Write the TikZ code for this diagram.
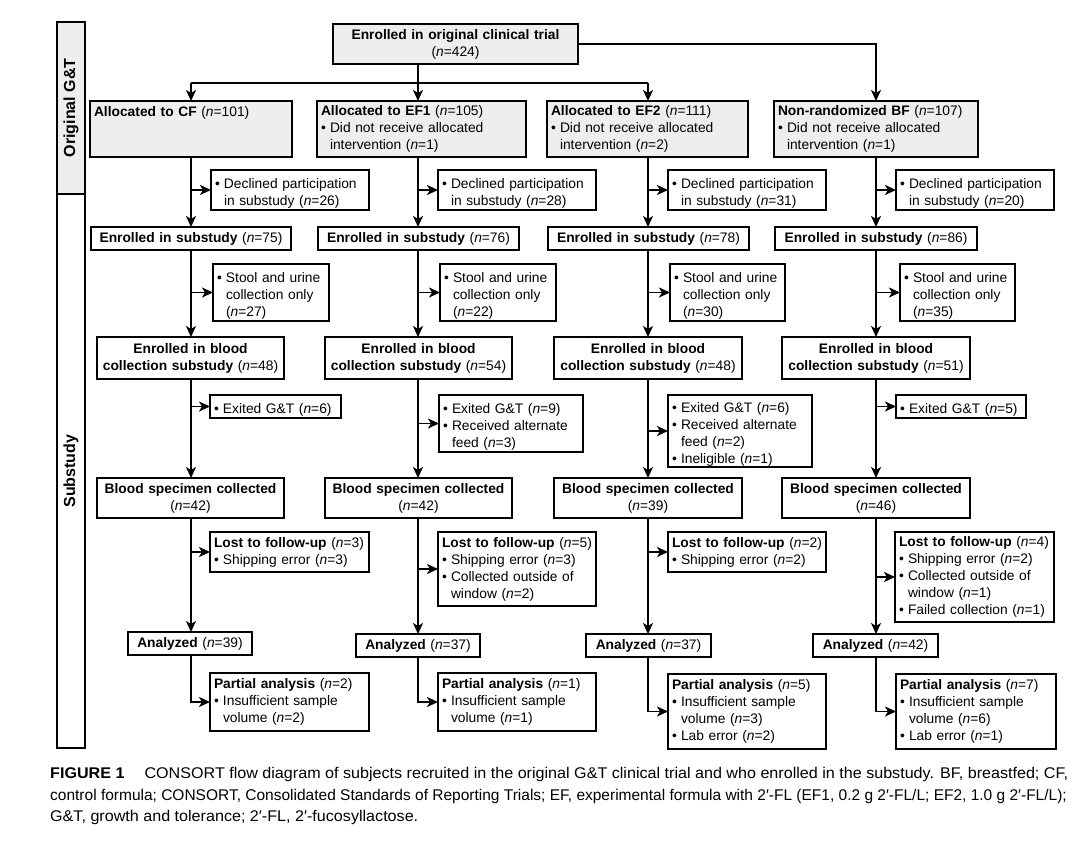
\documentclass[tikz,border=0pt]{standalone}
\usepackage{fontspec}
\setmainfont{Liberation Sans}
\newfontfamily\capfont[FakeStretch=1.04]{Liberation Sans}
\newfontfamily\capfontb[FakeStretch=1.0]{Liberation Sans}
\usetikzlibrary{arrows.meta,calc}
\definecolor{boxgray}{RGB}{238,238,238}
\newcommand\fs{\fontsize{13.8pt}{17pt}\selectfont}
\newcommand\nn{\textit{n}}
\newcommand\nl{\unskip\hfil\break}
\newcommand\bl[1]{\par\hangindent=9pt\hangafter=1\noindent\makebox[9pt][l]{\textbullet}#1\par}
\tikzset{
  bx/.style={draw=black, line width=1.4pt, anchor=north west, inner xsep=4pt, inner ysep=0pt, outer sep=0pt, align=left, font=\fs},
  gbx/.style={bx, fill=boxgray},
  cbx/.style={bx, align=center},
  tbx/.style={cbx, line width=2.4pt},
  colbox/.style={draw=black, line width=1.4pt, anchor=north west, inner sep=0pt, outer sep=0pt},
  arr/.style={line width=1.8pt, -{Stealth[length=11pt,width=10pt,inset=3pt]}},
  ln/.style={line width=1.8pt},
  captext/.style={anchor=base west, inner sep=0pt, font=\capfont\fontsize{15.5pt}{18pt}\selectfont},
  captextb/.style={anchor=base west, inner sep=0pt, font=\capfontb\fontsize{15.5pt}{18pt}\selectfont},
}
% [style]{name}{x,y}{w}{h}{text}
\newcommand\bx[6][]{\node[bx,#1,text width=#4pt-8pt,minimum height=#5pt] (#2) at (#3) {#6};}
\begin{document}
\begin{tikzpicture}[x=1pt,y=-1pt]
\useasboundingbox (0,0) rectangle (1080,843);
% side column
\node[colbox, fill=boxgray, minimum width=28pt, minimum height=172pt] (og) at (57,22) {};
\node[colbox, minimum width=28pt, minimum height=554pt] (sub) at (57,194) {};
\node[rotate=90, font=\fontsize{16pt}{18pt}\selectfont\bfseries] (ogl) at (og.center) {Original G\&T};
\node[rotate=90, font=\fontsize{16pt}{18pt}\selectfont\bfseries] (subl) at (sub.center) {Substudy};
% column axes
\coordinate (c1) at (191,0);
\coordinate (c2) at (418,0);
\coordinate (c3) at (648,0);
\coordinate (c4) at (876,0);
\coordinate (h) at (0,83);
% top
\bx[gbx,align=center]{T}{333,24}{245}{40}{\textbf{Enrolled in original clinical trial}\\(\nn=424)}
% allocation
\bx[gbx]{A1}{90,101}{202}{56}{\textbf{Allocated to CF} (\nn=101)\\~\\~}
\bx[gbx]{A2}{317,101}{209}{56}{\textbf{Allocated to EF1} (\nn=105)\bl{Did not receive allocated\nl intervention (\nn=1)}}
\bx[gbx]{A3}{547,101}{201}{56}{\textbf{Allocated to EF2} (\nn=111)\bl{Did not receive allocated\nl intervention (\nn=2)}}
\bx[gbx]{A4}{774,101}{204}{56}{\textbf{Non-randomized BF} (\nn=107)\bl{Did not receive allocated\nl intervention (\nn=1)}}
% declined
\bx{D1}{211,170}{158}{40}{\bl{Declined participation\nl in substudy (\nn=26)}}
\bx{D2}{438,170}{158}{40}{\bl{Declined participation\nl in substudy (\nn=28)}}
\bx{D3}{668,170}{158}{40}{\bl{Declined participation\nl in substudy (\nn=31)}}
\bx{D4}{896,170}{158}{40}{\bl{Declined participation\nl in substudy (\nn=20)}}
% enrolled substudy
\bx[cbx]{E1}{91,227}{200}{23}{\textbf{Enrolled in substudy} (\nn=75)}
\bx[cbx]{E2}{318,227}{201}{23}{\textbf{Enrolled in substudy} (\nn=76)}
\bx[cbx]{E3}{548,227}{201}{23}{\textbf{Enrolled in substudy} (\nn=78)}
\bx[cbx]{E4}{775,227}{202}{23}{\textbf{Enrolled in substudy} (\nn=86)}
% stool
\bx{S1}{213,264}{116}{57}{\bl{Stool and urine\nl collection only\nl (\nn=27)}}
\bx{S2}{440,264}{116}{57}{\bl{Stool and urine\nl collection only\nl (\nn=22)}}
\bx{S3}{670,264}{115}{57}{\bl{Stool and urine\nl collection only\nl (\nn=30)}}
\bx{S4}{900,264}{115}{57}{\bl{Stool and urine\nl collection only\nl (\nn=35)}}
% blood collection substudy
\bx[cbx]{B1}{97,337}{187}{42}{\textbf{Enrolled in blood}\\\textbf{collection substudy} (\nn=48)}
\bx[cbx]{B2}{325,337}{187}{42}{\textbf{Enrolled in blood}\\\textbf{collection substudy} (\nn=54)}
\bx[cbx]{B3}{554,337}{188}{42}{\textbf{Enrolled in blood}\\\textbf{collection substudy} (\nn=48)}
\bx[cbx]{B4}{782,337}{188}{42}{\textbf{Enrolled in blood}\\\textbf{collection substudy} (\nn=51)}
% exited
\bx{X1}{210,395}{131}{23}{\bl{Exited G\&T (\nn=6)}}
\bx{X2}{439,395}{144}{57}{\bl{Exited G\&T (\nn=9)}\bl{Received alternate\nl feed (\nn=3)}}
\bx{X3}{668,395}{144}{72}{\bl{Exited G\&T (\nn=6)}\bl{Received alternate\nl feed (\nn=2)}\bl{Ineligible (\nn=1)}}
\bx{X4}{896,395}{130}{23}{\bl{Exited G\&T (\nn=5)}}
% blood specimen
\bx[cbx]{BS1}{97,478}{187}{40}{\textbf{Blood specimen collected}\\(\nn=42)}
\bx[cbx]{BS2}{325,478}{187}{40}{\textbf{Blood specimen collected}\\(\nn=42)}
\bx[cbx]{BS3}{554,478}{188}{40}{\textbf{Blood specimen collected}\\(\nn=39)}
\bx[cbx]{BS4}{782,478}{188}{40}{\textbf{Blood specimen collected}\\(\nn=46)}
% lost
\bx{L1}{210,532}{159}{40}{\textbf{Lost to follow-up} (\nn=3)\bl{Shipping error (\nn=3)}}
\bx{L2}{438,532}{158}{74}{\textbf{Lost to follow-up} (\nn=5)\bl{Shipping error (\nn=3)}\bl{Collected outside of\nl window (\nn=2)}}
\bx{L3}{668,532}{158}{40}{\textbf{Lost to follow-up} (\nn=2)\bl{Shipping error (\nn=2)}}
\bx{L4}{895,532}{159}{90}{\textbf{Lost to follow-up} (\nn=4)\bl{Shipping error (\nn=2)}\bl{Collected outside of\nl window (\nn=1)}\bl{Failed collection (\nn=1)}}
% analyzed
\bx[tbx]{N1}{128,632}{124}{23}{\textbf{Analyzed} (\nn=39)}
\bx[tbx]{N2}{356,634}{124}{23}{\textbf{Analyzed} (\nn=37)}
\bx[tbx]{N3}{586,634}{125}{23}{\textbf{Analyzed} (\nn=37)}
\bx[tbx]{N4}{813,634}{125}{23}{\textbf{Analyzed} (\nn=42)}
% partial
\bx{P1}{210,673}{159}{58}{\textbf{Partial analysis} (\nn=2)\bl{Insufficient sample\nl volume (\nn=2)}}
\bx{P2}{438,673}{158}{58}{\textbf{Partial analysis} (\nn=1)\bl{Insufficient sample\nl volume (\nn=1)}}
\bx{P3}{668,674}{158}{75}{\textbf{Partial analysis} (\nn=5)\bl{Insufficient sample\nl volume (\nn=3)}\bl{Lab error (\nn=2)}}
\bx{P4}{896,674}{160}{75}{\textbf{Partial analysis} (\nn=7)\bl{Insufficient sample\nl volume (\nn=6)}\bl{Lab error (\nn=1)}}
% connectors top
\draw[ln] (h -| c1) -- (h -| c3);
\draw[arr] (T.south -| c2) -- (A2.north -| c2);
\draw[arr] (h -| c1) -- (A1.north -| c1);
\draw[arr] (h -| c3) -- (A3.north -| c3);
\draw[arr] (T.east) -| (A4.north -| c4);
\foreach \i in {1,2,3,4}{
  \draw[arr] (A\i.south -| c\i) -- (E\i.north -| c\i);
  \draw[arr] (c\i |- D\i.west) -- (D\i.west);
  \draw[arr] (E\i.south -| c\i) -- (B\i.north -| c\i);
  \draw[arr] (c\i |- S\i.west) -- (S\i.west);
  \draw[arr] (B\i.south -| c\i) -- (BS\i.north -| c\i);
  \draw[arr] (c\i |- X\i.west) -- (X\i.west);
  \draw[arr] (BS\i.south -| c\i) -- (N\i.north -| c\i);
  \draw[arr] (c\i |- L\i.west) -- (L\i.west);
  \draw[arr] (N\i.south -| c\i) |- (P\i.west);
}
% caption
\node[captext] (cap1) at (50,778) {\textbf{FIGURE 1}\hspace{20pt}CONSORT flow diagram of subjects recruited in the original G\&T clinical trial and who enrolled in the substudy. BF, breastfed; CF,};
\node[captextb] (cap2) at (50,800) {control formula; CONSORT, Consolidated Standards of Reporting Trials; EF, experimental formula with 2′-FL (EF1, 0.2 g 2′-FL/L; EF2, 1.0 g 2′-FL/L);};
\node[captext] (cap3) at (50,821) {G\&T, growth and tolerance; 2′-FL, 2′-fucosyllactose.};
\end{tikzpicture}
\end{document}
